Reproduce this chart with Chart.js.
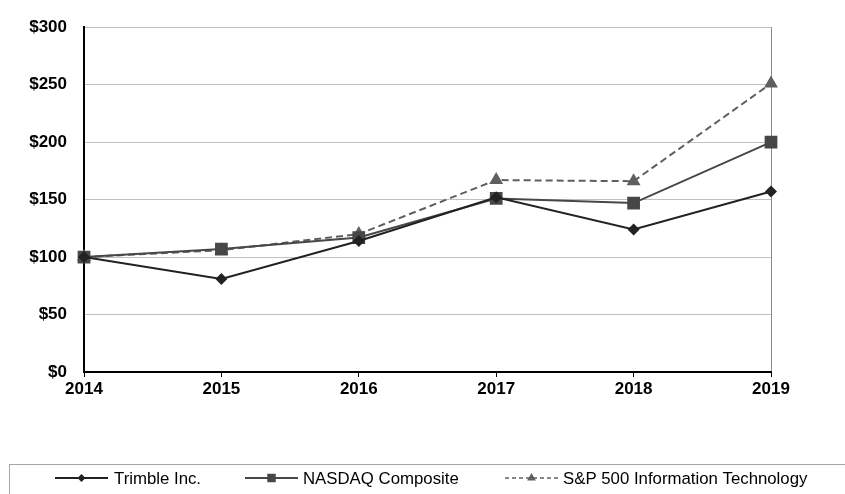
<!DOCTYPE html>
<html>
<head>
<meta charset="utf-8">
<script src="https://cdn.jsdelivr.net/npm/chart.js@4"></script>
<style>
html,body{margin:0;padding:0;background:#fff;}
#wrap{width:845px;height:494px;position:relative;}
</style>
</head>
<body>
<div id="wrap"><canvas id="c" width="845" height="494"></canvas></div>
<script>
const years = ['2014', '2015', '2016', '2017', '2018', '2019'];
const trimble = [100, 81, 114, 152, 124, 157];
const nasdaq = [100, 107, 117, 151, 147, 200];
const spIT = [100, 106, 120, 167, 166, 251];
const yTicks = [0, 50, 100, 150, 200, 250, 300];
const seriesNames = ['Trimble Inc.', 'NASDAQ Composite', 'S&P 500 Information Technology'];

const FONT = "'Liberation Sans', Arial, sans-serif";

const legendBox = {
  id: 'legendBox',
  afterDraw(chart) {
    const ctx = chart.ctx;
    ctx.save();
    ctx.strokeStyle = '#a6a6a6';
    ctx.lineWidth = 1;
    ctx.strokeRect(9.5, 464.5, 860, 60);
    const items = [
      {x0: 55, x1: 108, tx: 114},
      {x0: 245, x1: 298, tx: 303},
      {x0: 505, x1: 558, tx: 563}
    ];
    const y = 478;
    chart.data.datasets.forEach((ds, i) => {
      const it = items[i];
      ctx.save();
      ctx.strokeStyle = ds.borderColor;
      ctx.lineWidth = ds.legendLineWidth;
      ctx.setLineDash(ds.legendDash || []);
      ctx.beginPath();
      ctx.moveTo(it.x0, y);
      ctx.lineTo(it.x1, y);
      ctx.stroke();
      ctx.setLineDash([]);
      ctx.fillStyle = ds.pointBackgroundColor;
      ctx.strokeStyle = ds.pointBorderColor;
      Chart.helpers.drawPoint(ctx, {pointStyle: ds.pointStyle, radius: ds.legendPointRadius, borderWidth: 0, rotation: 0}, (it.x0 + it.x1) / 2, y);
      ctx.restore();
      ctx.fillStyle = '#000';
      ctx.font = '16.8px ' + FONT;
      ctx.textBaseline = 'middle';
      ctx.textAlign = 'left';
      ctx.fillText(ds.label, it.tx, y + 1);
    });
    ctx.restore();
  }
};

new Chart(document.getElementById('c'), {
  type: 'line',
  data: {
    labels: years,
    datasets: [
      {
        label: seriesNames[0], data: trimble,
        borderColor: '#222222', borderWidth: 2, legendLineWidth: 2,
        pointStyle: 'rectRot', pointRadius: 6, legendPointRadius: 4,
        pointBackgroundColor: '#222222', pointBorderColor: '#222222', pointBorderWidth: 0,
        tension: 0, order: 1
      },
      {
        label: seriesNames[1], data: nasdaq,
        borderColor: '#474747', borderWidth: 2, legendLineWidth: 2,
        pointStyle: 'rect', pointRadius: 9, legendPointRadius: 6,
        pointBackgroundColor: '#474747', pointBorderColor: '#474747', pointBorderWidth: 0,
        tension: 0, order: 2
      },
      {
        label: seriesNames[2], data: spIT,
        borderColor: '#5f5f5f', borderWidth: 2, legendLineWidth: 1.5,
        borderDash: [7, 4], legendDash: [4, 3],
        pointStyle: 'triangle', pointRadius: 8, legendPointRadius: 5,
        pointBackgroundColor: '#5f5f5f', pointBorderColor: '#5f5f5f', pointBorderWidth: 0,
        tension: 0, order: 3
      }
    ]
  },
  options: {
    responsive: false,
    animation: false,
    devicePixelRatio: 1,
    layout: {padding: {left: 0, right: 74, top: 22, bottom: 92}},
    plugins: {legend: {display: false}, tooltip: {enabled: false}},
    scales: {
      x: {
        offset: false,
        afterFit(s) { s.height = 30; },
        border: {color: '#000', width: 2},
        grid: {
          color: (c) => c.index === years.length - 1 ? '#8c8c8c' : 'rgba(0,0,0,0)',
          lineWidth: 1,
          drawTicks: true, tickLength: 5, tickColor: '#000', tickWidth: 1
        },
        ticks: {color: '#000', font: {family: FONT, size: 17, weight: 'bold'}, padding: 2, maxRotation: 0}
      },
      y: {
        min: 0, max: 300,
        afterFit(s) { s.width = 84; },
        afterBuildTicks(s) { s.ticks = yTicks.map(v => ({value: v})); },
        border: {color: '#000', width: 2},
        grid: {
          color: (c) => c.index === 0 ? 'rgba(0,0,0,0)' : '#c0c0c0',
          lineWidth: 1, drawTicks: false
        },
        ticks: {
          color: '#000', font: {family: FONT, size: 17, weight: 'bold'}, padding: 17,
          callback: (v) => '$' + v
        }
      }
    }
  },
  plugins: [legendBox]
});
</script>
</body>
</html>
